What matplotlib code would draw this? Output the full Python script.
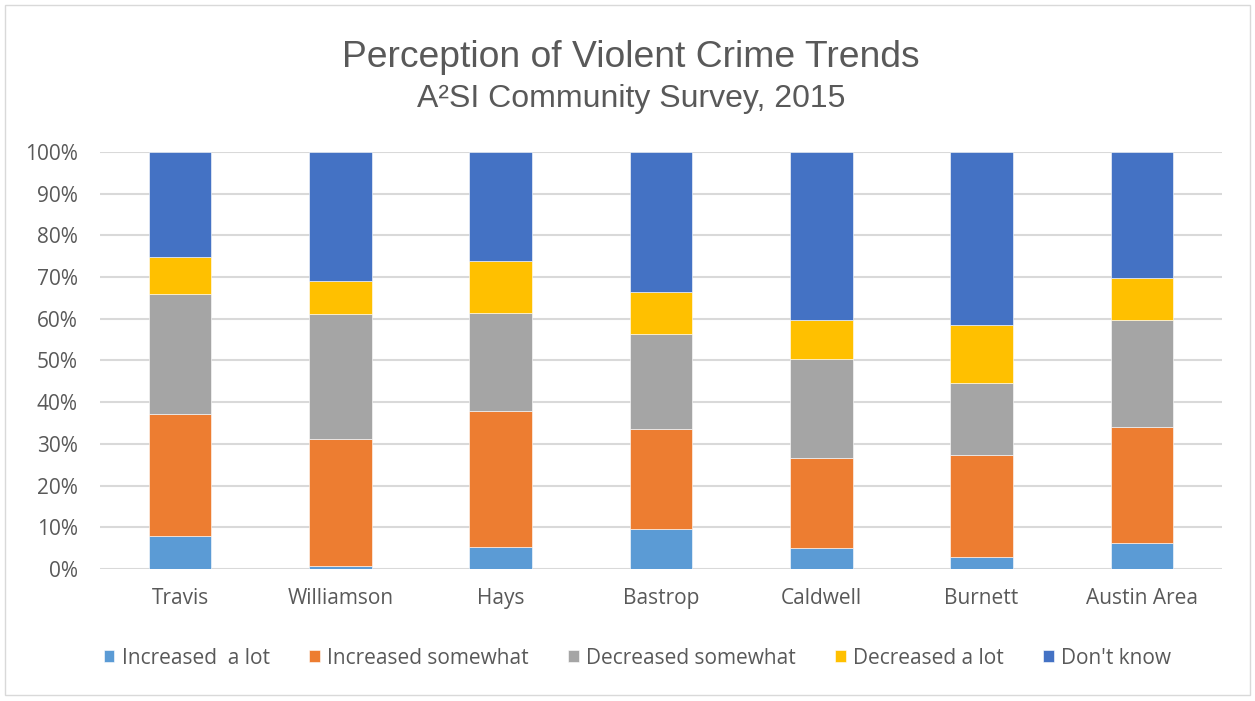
import numpy as np
import matplotlib
matplotlib.use("Agg")
import matplotlib.pyplot as plt
from matplotlib.patches import Rectangle

counties = ["Travis", "Williamson", "Hays", "Bastrop", "Caldwell", "Burnett", "Austin Area"]
series_names = ["Increased  a lot", "Increased somewhat", "Decreased somewhat",
                "Decreased a lot", "Don't know"]
colors = ["#5B9BD5", "#ED7D31", "#A5A5A5", "#FFC000", "#4472C4"]

# percent of respondents per county
increased_lot = [7.8, 0.7, 5.2, 9.5, 5.0, 2.8, 6.2]
increased_some = [29.4, 30.5, 32.8, 24.0, 21.5, 24.6, 27.8]
decreased_some = [28.7, 30.0, 23.3, 22.9, 23.9, 17.1, 25.6]
decreased_lot = [9.0, 7.9, 12.5, 10.1, 9.3, 14.1, 10.2]
dont_know = [25.1, 30.9, 26.2, 33.5, 40.3, 41.4, 30.2]

data = np.array([increased_lot, increased_some, decreased_some, decreased_lot, dont_know])
data = data / data.sum(axis=0)

fig = plt.figure(figsize=(12.55, 7.01), dpi=100)
ax = fig.add_axes([0.0797, 0.1883, 0.8940, 0.5949])

x = np.arange(len(counties))
bottom = np.zeros(len(counties))
for vals, name, c in zip(data, series_names, colors):
    ax.bar(x, vals, 0.39, bottom=bottom, color=c, label=name, zorder=3,
           edgecolor="white", linewidth=0.4)
    bottom += vals

txt = "#595959"
ax.set_ylim(0, 1)
ax.set_xlim(-0.5, len(counties) - 0.5)
ax.set_yticks(np.arange(0, 1.01, 0.1))
ax.set_yticklabels([f"{int(round(v * 100))}%" for v in np.arange(0, 1.01, 0.1)],
                   fontsize=15, color=txt, family="Open Sans")
ax.set_xticks(x)
ax.set_xticklabels(counties, fontsize=15, color=txt, family="Open Sans")
ax.tick_params(length=0)
ax.tick_params(axis="x", pad=14)
ax.tick_params(axis="y", pad=16)
ax.grid(axis="y", color="#D9D9D9", linewidth=1.5, zorder=0)
for s in ax.spines.values():
    s.set_visible(False)

fig.text(0.503, 0.918, "Perception of Violent Crime Trends", ha="center", va="center",
         fontsize=26.8, color=txt, family="Liberation Sans")
fig.text(0.503, 0.859, "A²SI Community Survey, 2015", ha="center", va="center",
         fontsize=23, color=txt, family="Liberation Sans")

leg = fig.legend(loc="center", bbox_to_anchor=(0.508, 0.061), ncol=5, frameon=False,
                 handlelength=0.5, handleheight=0.5, handletextpad=0.35,
                 columnspacing=1.9, prop={"family": "Open Sans", "size": 15})
for t in leg.get_texts():
    t.set_color(txt)

fig.patches.append(Rectangle((0.004, 0.008), 0.992, 0.985, transform=fig.transFigure,
                             fill=False, edgecolor="#D9D9D9", linewidth=1))

fig.savefig("out.png", dpi=100)
